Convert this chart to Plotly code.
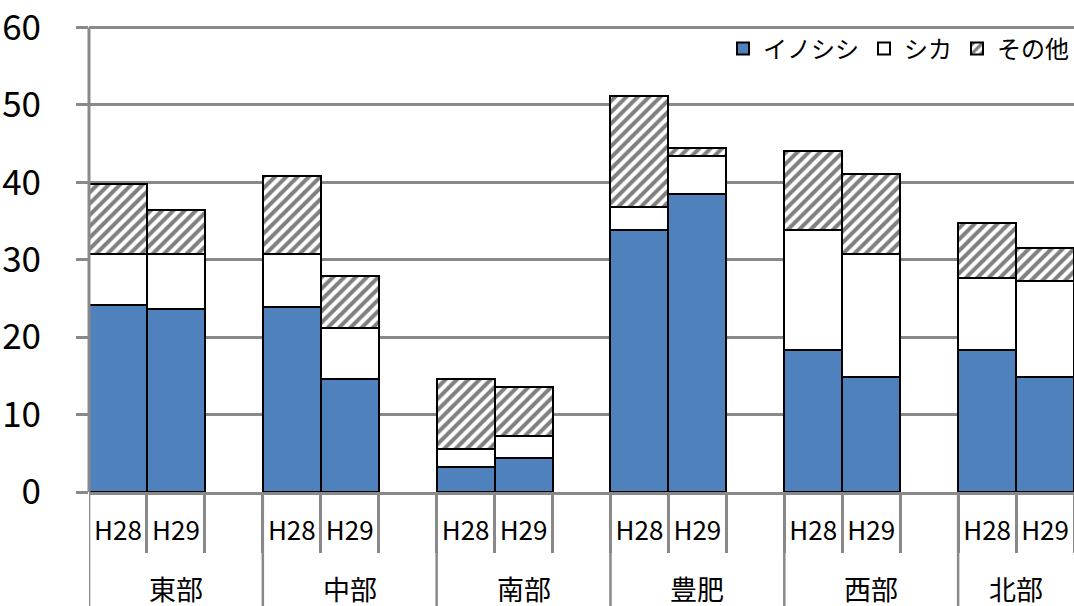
import plotly.graph_objects as go

regions = ["東部", "中部", "南部", "豊肥", "西部", "北部"]
years = ["H28", "H29"]
series_names = ["イノシシ", "シカ", "その他"]

inoshishi = [24.1, 23.6, 23.9, 14.6, 3.2, 4.4, 33.8, 38.5, 18.3, 14.8, 18.3, 14.8]
shika = [6.7, 7.2, 6.9, 6.6, 2.3, 2.8, 3.0, 4.9, 15.6, 16.0, 9.4, 12.4]
sonota = [9.0, 5.6, 10.0, 6.7, 9.1, 6.3, 14.3, 1.0, 10.1, 10.3, 7.1, 4.3]

y_ticks = [0, 10, 20, 30, 40, 50, 60]

FONT = "Noto Sans CJK JP"
GRID = "#898989"
SLOTS = 3  # H28, H29, blank

# positions derived from category indices
xpos = []
xlabels = []
for g, _ in enumerate(regions):
    for s, yr in enumerate(years):
        xpos.append(g * SLOTS + s)
        xlabels.append(yr)

x_min = -0.5
x_max = (len(regions) - 1) * SLOTS + len(years) - 0.5  # cropped at right like the reference

fig = go.Figure()
fig.add_trace(go.Bar(x=xpos, y=inoshishi, name=series_names[0], width=1,
                     marker=dict(color="#4F81BD", line=dict(color="black", width=2))))
fig.add_trace(go.Bar(x=xpos, y=shika, name=series_names[1], width=1,
                     marker=dict(color="white", line=dict(color="black", width=2))))
fig.add_trace(go.Bar(x=xpos, y=sonota, name=series_names[2], width=1,
                     marker=dict(color="white", line=dict(color="black", width=2),
                                 pattern=dict(shape="/", fgcolor="black", bgcolor="white",
                                              size=8, solidity=0.5))))

# boundaries between slots inside groups
minor_vals = []
for g in range(len(regions)):
    for s in range(SLOTS):
        b = g * SLOTS + s + 0.5
        if b <= x_max:
            minor_vals.append(b)

# group dividers and labels
shapes = []
annotations = []
for g, name in enumerate(regions):
    left = g * SLOTS - 0.5
    right = min(g * SLOTS + SLOTS - 0.5, x_max)
    shapes.append(dict(type="line", xref="x", yref="paper", x0=left, x1=left,
                       y0=0, y1=-0.3, line=dict(color=GRID, width=2.5)))
    annotations.append(dict(xref="x", yref="paper", x=(left + right) / 2, y=-0.2,
                            text=name, showarrow=False, yanchor="middle", height=30,
                            font=dict(family=FONT, size=27, color="black")))

# top gridline at 60 drawn explicitly (plotly may drop a grid line near the edge)
shapes.append(dict(type="line", xref="paper", yref="y", x0=0, x1=1,
                   y0=y_ticks[-1], y1=y_ticks[-1], layer="above",
                   line=dict(color=GRID, width=3)))

fig.update_layout(
    width=1074, height=606,
    margin=dict(l=89, r=0, t=12, b=114),
    paper_bgcolor="white", plot_bgcolor="white",
    barmode="stack", bargap=0,
    font=dict(family=FONT, color="black"),
    shapes=shapes, annotations=annotations,
    legend=dict(orientation="h", x=1.0, xanchor="right", y=0.923, yanchor="middle",
                traceorder="normal", font=dict(family=FONT, size=24, color="black"),
                bgcolor="rgba(0,0,0,0)", itemwidth=30),
    xaxis=dict(range=[x_min, x_max], tickmode="array", tickvals=xpos, ticktext=xlabels,
               ticks="", showgrid=False, zeroline=False,
               showline=True, linecolor=GRID, linewidth=3,
               tickfont=dict(family=FONT, size=26, color="black"),
               ticklabelstandoff=14,
               minor=dict(tickmode="array", tickvals=minor_vals, ticks="outside",
                          ticklen=58, tickwidth=2.5, tickcolor=GRID, showgrid=False)),
    yaxis=dict(range=[0, 62], tickmode="array", tickvals=y_ticks,
               showgrid=True, gridcolor=GRID, gridwidth=3, zeroline=False,
               showline=False,
               ticks="outside", ticklen=12, tickwidth=3, tickcolor=GRID,
               ticklabelstandoff=28, ticklabeloverflow="allow",
               tickfont=dict(family=FONT, size=35, color="black")),
)

# y axis line from 0 to 60 only, like the reference
shapes.append(dict(type="line", xref="paper", yref="y", x0=0, x1=0,
                   y0=y_ticks[0], y1=y_ticks[-1], layer="above",
                   line=dict(color=GRID, width=3)))
fig.update_layout(shapes=shapes)

fig.write_html("out.html", config={"displayModeBar": False},
               post_script="document.body.style.margin='0px';")
